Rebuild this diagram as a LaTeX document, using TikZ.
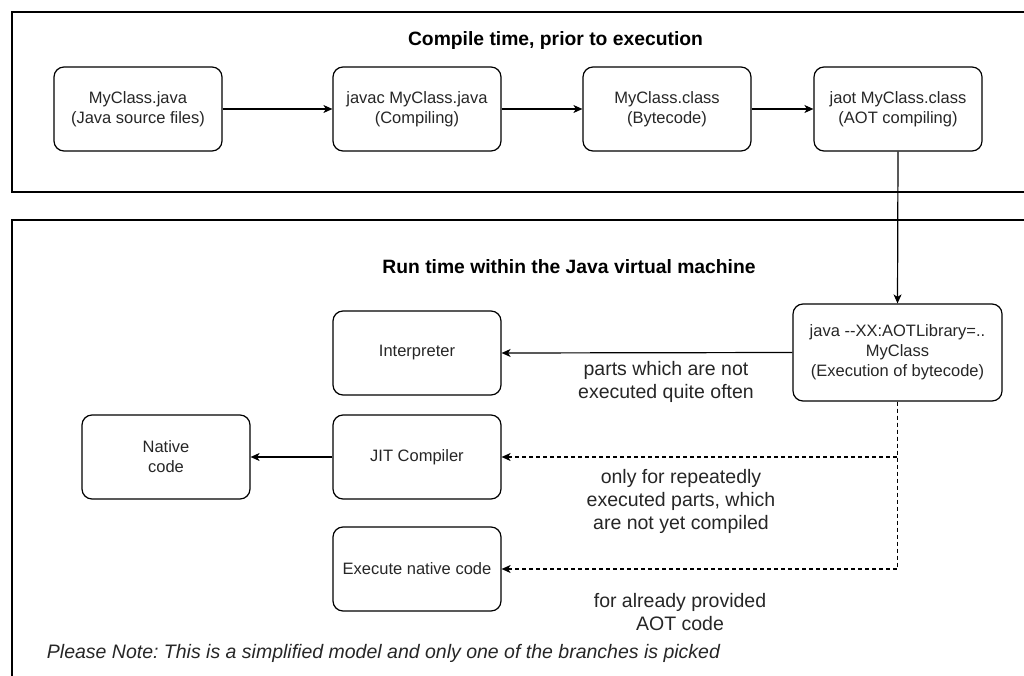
\documentclass[tikz,border=0pt]{standalone}
\usepackage{fontspec}
\setmainfont{Liberation Sans}
\usetikzlibrary{arrows.meta}

\begin{document}
\frenchspacing
\begin{tikzpicture}[x=1pt,y=-1pt,
  line width=1.2pt,
  box/.style={draw, rounded corners=10pt, minimum width=168pt, minimum height=84pt,
              align=center, inner sep=0pt, text=black!85,
              font=\fontsize{16.5}{20}\selectfont},
  frame/.style={draw, line width=1.3pt},
  title/.style={font=\bfseries\fontsize{19.3}{23}\selectfont, text=black},
  lbl/.style={align=center, text=black!85, font=\fontsize{19.5}{23}\selectfont},
  arr/.style={-{Stealth[length=9pt,width=8pt,inset=2.5pt]}},
  dsh/.style={arr, dash pattern=on 4pt off 3pt}
]
\clip (0,0) rectangle (1024,676);

% the two phases
\draw[frame] (12,12) rectangle (1040,192);
\draw[frame] (12,220) rectangle (1040,700);
\node[title] (tcomp) at (555.5,41) {Compile time, prior to execution};
\node[title] (trun) at (569,267) {Run time within the Java virtual machine};

% compile-time chain
\node[box] (src)   at (138,109) {MyClass.java\\(Java source files)};
\node[box] (javac) at (417,109) {javac MyClass.java\\(Compiling)};
\node[box] (cls)   at (667,109) {MyClass.class\\(Bytecode)};
\node[box] (jaot)  at (898,109) {jaot MyClass.class\\(AOT compiling)};

% run-time nodes
\node[box, minimum width=209pt, minimum height=97pt] (jvm) at (897.5,352.5)
  {java -{}-XX:AOTLibrary=..\\MyClass\\(Execution of bytecode)};
\node[box] (interp) at (417,353) {Interpreter};
\node[box] (jit)    at (417,457) {JIT Compiler};
\node[box] (native) at (166,457) {Native\\code};
\node[box] (exec)   at (417,569) {Execute native code};

% connectors
\draw[arr] (src) -- (javac);
\draw[arr] (javac) -- (cls);
\draw[arr] (cls) -- (jaot);
\draw[arr] (jaot.south) -- (jvm.north);
\draw[arr] (jvm.west) -- (interp.east);
\draw[dsh] (jvm.south) |- (jit.east);
\draw[dsh] (jvm.south) |- (exec.east);
\draw[arr] (jit) -- (native);

% edge labels
\node[lbl] (l1) at (666,382) {parts which are not\\executed quite often};
\node[lbl] (l2) at (681,501) {only for repeatedly\\executed parts, which\\are not yet compiled};
\node[lbl] (l3) at (680,612) {for already provided\\AOT code};

\node[anchor=west, text=black!85, font=\itshape\fontsize{19.5}{23}\selectfont] (note) at (43,653)
  {Please Note: This is a simplified model and only one of the branches is picked};
\end{tikzpicture}
\end{document}
